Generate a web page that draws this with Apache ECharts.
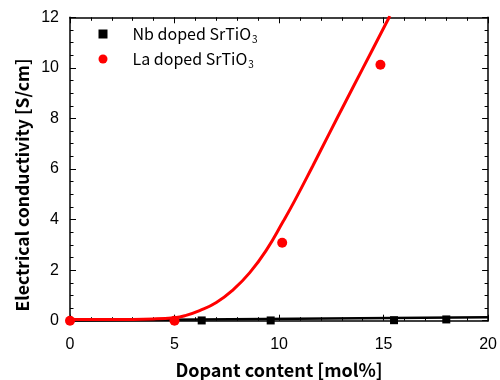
<!DOCTYPE html>
<html><head><meta charset="utf-8">
<script src="https://cdn.jsdelivr.net/npm/echarts@6/dist/echarts.min.js"></script>
<style>html,body{margin:0;padding:0;background:#fff}#c{width:500px;height:380px}</style>
</head><body><div id="c"></div>
<script>
const nbPoints = [[6.3, 0.01], [9.6, 0.01], [15.5, 0.02], [18.0, 0.05]];
const laPoints = [[0, 0], [5.0, 0], [10.15, 3.08], [14.85, 10.12]];
const nbFit = [[0, 0.01], [20, 0.14]];
const laFit = [[0, 0.05], [2, 0.05], [4, 0.07], [5, 0.12], [5.5, 0.2], [6.2, 0.4], [7.0, 0.72], [7.8, 1.22], [8.6, 1.9], [9.4, 2.8], [10.2, 3.93], [10.75, 4.75], [11.6, 6.1], [12.4, 7.4], [13.2, 8.69], [14.0, 9.97], [14.8, 11.25], [15.3, 12.05]];
const xTicks = [0, 5, 10, 15, 20];
const yTicks = [0, 2, 4, 6, 8, 10, 12];
const legendNames = ['Nb doped SrTiO3', 'La doped SrTiO3'];
const xTitle = 'Dopant content [mol%]';
const yTitle = 'Electrical conductivity [S/cm]';

const chart = echarts.init(document.getElementById('c'));
const tickFont = {fontFamily: 'Liberation Sans', fontSize: 16, color: '#000'};
const axisLine = {show: true, onZero: false, lineStyle: {color: '#000', width: 1.5}};
const axisTick = {show: true, inside: true, length: 6, lineStyle: {color: '#000', width: 1}};
const minorX = {show: true, splitNumber: 5, length: 3.5, lineStyle: {color: '#000', width: 1}};
const minorY = {show: true, splitNumber: 4, length: 3.5, lineStyle: {color: '#000', width: 1}};
chart.setOption({
  animation: false,
  grid: {left: 70, right: 11.3, top: 17.3, bottom: 59.3},
  legend: {
    orient: 'vertical', left: 98.5, top: 24, itemWidth: 9, itemHeight: 9, itemGap: 5, padding: 0,
    data: [{name: legendNames[0], icon: 'rect'}, {name: legendNames[1], icon: 'circle'}],
    formatter: n => n.replace('SrTiO3', 'SrTiO{s|3}'),
    textStyle: {fontFamily: 'Noto Sans CJK JP', fontSize: 16, lineHeight: 20, color: '#000', padding: [0, 0, 0, 20],
      rich: {s: {fontFamily: 'Noto Sans CJK JP', fontSize: 10, lineHeight: 8, verticalAlign: 'bottom', padding: [0, 0, 0, 1]}}}
  },
  xAxis: [
    {type: 'value', position: 'bottom', min: 0, max: 20, interval: 5, axisLine, axisTick, minorTick: minorX, splitLine: {show: false},
      axisLabel: Object.assign({margin: 16, formatter: v => xTicks.includes(v) ? String(v) : ''}, tickFont)},
    {type: 'value', position: 'top', min: 0, max: 20, interval: 5, axisLine, axisTick, minorTick: minorX, splitLine: {show: false},
      axisLabel: {show: false}}
  ],
  yAxis: [
    {type: 'value', position: 'left', min: 0, max: 12, interval: 2, axisLine, axisTick, minorTick: minorY, splitLine: {show: false},
      axisLabel: Object.assign({margin: 11, formatter: v => yTicks.includes(v) ? String(v) : ''}, tickFont)},
    {type: 'value', position: 'right', min: 0, max: 12, interval: 2, axisLine, axisTick, minorTick: minorY, splitLine: {show: false},
      axisLabel: {show: false}}
  ],
  graphic: [
    {type: 'text', x: 279, y: 370, style: {text: xTitle, x: 0, y: 0, align: 'center', verticalAlign: 'middle',
      font: 'bold 18px "Noto Sans CJK JP"', fill: '#000'}},
    {type: 'text', rotation: Math.PI / 2, x: 22, y: 185, style: {text: yTitle, x: 0, y: 0, align: 'center', verticalAlign: 'middle',
      font: 'bold 17.5px "Noto Sans CJK JP"', fill: '#000'}}
  ],
  series: [
    {name: legendNames[0] + ' fit', type: 'line', data: nbFit, showSymbol: false, lineStyle: {color: '#000', width: 2.5}, z: 2, silent: true},
    {name: legendNames[1] + ' fit', type: 'line', data: laFit, smooth: 0.5, showSymbol: false, lineStyle: {color: '#ff0000', width: 3}, z: 3, silent: true},
    {name: legendNames[0], type: 'scatter', data: nbPoints, symbol: 'rect', symbolSize: 8, itemStyle: {color: '#000', opacity: 1}, z: 4},
    {name: legendNames[1], type: 'scatter', data: laPoints, symbol: 'circle', symbolSize: 10, itemStyle: {color: '#ff0000', opacity: 1}, z: 5, clip: false}
  ]
});
</script></body></html>
